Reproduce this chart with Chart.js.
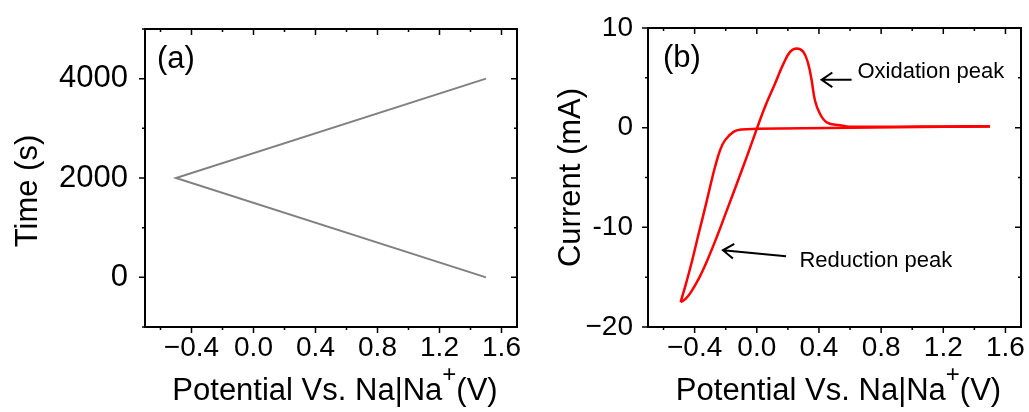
<!DOCTYPE html>
<html>
<head>
<meta charset="utf-8">
<script src="https://cdn.jsdelivr.net/npm/chart.js"></script>
<style>
html, body { margin: 0; padding: 0; background: #fff; }
#wrap { position: relative; width: 1029px; height: 412px; overflow: hidden; }
canvas { position: absolute; top: 0; }
#chartA { left: 0; }
#chartB { left: 520px; }
</style>
</head>
<body>
<div id="wrap">
  <canvas id="chartB" width="509" height="412"></canvas>
  <canvas id="chartA" width="530" height="412"></canvas>
</div>
<script>
// Panel (a): barrido de potencial frente al tiempo
var sweepPotential = [1.5, -0.5, 1.5];
var sweepTime = [0, 2000, 4000];

// Panel (b): voltametria ciclica, rama catodica (1.5 -> -0.5 V)
var cathodicPotential = [1.5, 1.2, 0.9, 0.6, 0.3, 0.0, -0.096, -0.15, -0.204, -0.236, -0.268, -0.30, -0.332, -0.375, -0.417, -0.46, -0.49];
var cathodicCurrent   = [0.12, 0.08, 0.04, 0.0, -0.05, -0.12, -0.18, -0.42, -1.25, -2.25, -3.9, -5.9, -8.0, -10.7, -13.4, -15.9, -17.5];

// rama anodica (-0.5 -> 1.5 V)
var anodicPotential = [-0.49, -0.46, -0.428, -0.375, -0.321, -0.257, -0.193, -0.128, -0.064, -0.011, 0.053, 0.117, 0.171, 0.214, 0.257, 0.30, 0.331, 0.353, 0.374, 0.406, 0.453, 0.535, 0.6, 0.9, 1.2, 1.5];
var anodicCurrent   = [-17.5, -17.2, -16.6, -15.2, -13.4, -10.95, -8.3, -5.6, -2.9, -0.6, 2.1, 4.4, 6.4, 7.6, 7.95, 7.6, 6.4, 4.75, 2.75, 1.4, 0.5, 0.25, 0.1, 0.1, 0.12, 0.15];

// ticks de los ejes
var potentialTicks  = [-0.6, -0.4, -0.2, 0, 0.2, 0.4, 0.6, 0.8, 1.0, 1.2, 1.4, 1.6];
var potentialLabels = ['', '\u22120.4', '', '0.0', '', '0.4', '', '0.8', '', '1.2', '', '1.6'];
var timeTicks  = [-1000, 0, 1000, 2000, 3000, 4000, 5000];
var timeLabels = ['', '0', '', '2000', '', '4000', ''];
var currentTicks  = [-20, -15, -10, -5, 0, 5, 10];
var currentLabels = ['\u221220', '', '-10', '', '0', '', '10'];

var FONT = "'Liberation Sans', Arial, sans-serif";

function toPoints(xs, ys) {
  return xs.map(function (x, i) { return { x: x, y: ys[i] }; });
}

function drawArrow(ctx, x1, y1, x2, y2) {
  var ang = Math.atan2(y2 - y1, x2 - x1), head = 13, spread = 0.6;
  ctx.beginPath();
  ctx.moveTo(x1, y1);
  ctx.lineTo(x2, y2);
  ctx.moveTo(x2 - head * Math.cos(ang - spread), y2 - head * Math.sin(ang - spread));
  ctx.lineTo(x2, y2);
  ctx.lineTo(x2 - head * Math.cos(ang + spread), y2 - head * Math.sin(ang + spread));
  ctx.stroke();
}

// marco, ticks en los 4 lados, titulos y notas
function framePlugin(cfg) {
  return {
    id: 'frame',
    afterDraw: function (chart) {
      var ctx = chart.ctx, a = chart.chartArea;
      var xs = chart.scales.x, ys = chart.scales.y;
      ctx.save();
      ctx.strokeStyle = '#000';
      ctx.fillStyle = '#000';
      ctx.lineWidth = 2;
      ctx.strokeRect(a.left, a.top, a.right - a.left, a.bottom - a.top);

      ctx.lineWidth = 1.5;
      ctx.beginPath();
      potentialTicks.forEach(function (v, i) {
        var px = xs.getPixelForValue(v);
        var len = potentialLabels[i] ? 6 : 3;
        ctx.moveTo(px, a.bottom); ctx.lineTo(px, a.bottom + len);
        ctx.moveTo(px, a.top); ctx.lineTo(px, a.top + len);
      });
      cfg.yTicks.forEach(function (v, i) {
        var py = ys.getPixelForValue(v);
        var len = cfg.yLabels[i] ? 6 : 3;
        ctx.moveTo(a.left, py); ctx.lineTo(a.left - len, py);
        ctx.moveTo(a.right, py); ctx.lineTo(a.right - len, py);
      });
      ctx.stroke();

      // titulo eje x con superindice
      var main = 'Potential Vs. Na|Na', sup = '+', tail = '(V)';
      ctx.textAlign = 'left';
      ctx.textBaseline = 'alphabetic';
      ctx.font = '31px ' + FONT;
      var w1 = ctx.measureText(main).width, w3 = ctx.measureText(tail).width;
      ctx.font = '24px ' + FONT;
      var w2 = ctx.measureText(sup).width;
      var x0 = (a.left + a.right) / 2 + 4 - (w1 + w2 + w3) / 2;
      var base = a.bottom + 73;
      ctx.font = '31px ' + FONT;
      ctx.fillText(main, x0, base);
      ctx.font = '24px ' + FONT;
      ctx.fillText(sup, x0 + w1, base - 18);
      ctx.font = '31px ' + FONT;
      ctx.fillText(tail, x0 + w1 + w2, base);

      // titulo eje y
      ctx.save();
      ctx.translate(cfg.yTitleX, (a.top + a.bottom) / 2 + cfg.yTitleShift);
      ctx.rotate(-Math.PI / 2);
      ctx.textAlign = 'center';
      ctx.textBaseline = 'middle';
      ctx.font = '31px ' + FONT;
      ctx.fillText(cfg.yTitle, 0, 0);
      ctx.restore();

      // etiqueta del panel
      ctx.textAlign = 'left';
      ctx.textBaseline = 'middle';
      ctx.font = '31px ' + FONT;
      ctx.fillText(cfg.panel, a.left + cfg.panelDx, a.top + 30);

      // notas con flecha
      (cfg.notes || []).forEach(function (n) {
        ctx.lineWidth = 2;
        drawArrow(ctx, xs.getPixelForValue(n.tail[0]), ys.getPixelForValue(n.tail[1]),
                  xs.getPixelForValue(n.tip[0]), ys.getPixelForValue(n.tip[1]));
        ctx.font = '22px ' + FONT;
        ctx.textBaseline = 'middle';
        ctx.fillText(n.text, xs.getPixelForValue(n.at[0]), ys.getPixelForValue(n.at[1]));
      });
      ctx.restore();
    }
  };
}

function makeScales(yMin, yMax, yTicks, yLabels, yWidth, yPad, ySize) {
  return {
    x: {
      type: 'linear', min: -0.7, max: 1.7,
      afterBuildTicks: function (s) { s.ticks = potentialTicks.map(function (v) { return { value: v }; }); },
      afterFit: function (s) { s.height = 85; s.paddingLeft = 0; s.paddingRight = 0; },
      grid: { display: false, drawTicks: false },
      border: { display: false },
      ticks: {
        autoSkip: false, maxRotation: 0, minRotation: 0, padding: 4, color: '#000',
        font: { family: FONT, size: 28 },
        callback: function (v, i) { return potentialLabels[i]; }
      }
    },
    y: {
      type: 'linear', min: yMin, max: yMax,
      afterBuildTicks: function (s) { s.ticks = yTicks.map(function (v) { return { value: v }; }); },
      afterFit: function (s) { s.width = yWidth; s.paddingTop = 0; s.paddingBottom = 0; },
      grid: { display: false, drawTicks: false },
      border: { display: false },
      ticks: {
        autoSkip: false, padding: yPad, color: '#000',
        font: { family: FONT, size: ySize },
        callback: function (v, i) { return yLabels[i]; }
      }
    }
  };
}

var chartA = new Chart(document.getElementById('chartA').getContext('2d'), {
  type: 'scatter',
  data: {
    datasets: [{
      data: toPoints(sweepPotential, sweepTime),
      showLine: true,
      borderColor: '#808080',
      borderWidth: 2,
      pointRadius: 0
    }]
  },
  options: {
    responsive: false,
    animation: false,
    layout: { padding: { top: 29, right: 13, left: 0, bottom: 0 } },
    plugins: { legend: { display: false }, tooltip: { enabled: false } },
    scales: makeScales(-1000, 5000, timeTicks, timeLabels, 145, 17, 31)
  },
  plugins: [framePlugin({
    yTicks: timeTicks, yLabels: timeLabels,
    yTitle: 'Time (s)', yTitleX: 28, yTitleShift: 13,
    panel: '(a)', panelDx: 12
  })]
});

var chartB = new Chart(document.getElementById('chartB').getContext('2d'), {
  type: 'scatter',
  data: {
    datasets: [{
      data: toPoints(cathodicPotential, cathodicCurrent),
      showLine: true,
      borderColor: '#ff0000',
      borderWidth: 2.5,
      pointRadius: 0,
      tension: 0.4
    }, {
      data: toPoints(anodicPotential, anodicCurrent),
      showLine: true,
      borderColor: '#ff0000',
      borderWidth: 2.5,
      pointRadius: 0,
      tension: 0.4
    }]
  },
  options: {
    responsive: false,
    animation: false,
    layout: { padding: { top: 28, right: 8, left: 0, bottom: 0 } },
    plugins: { legend: { display: false }, tooltip: { enabled: false } },
    scales: makeScales(-20, 10, currentTicks, currentLabels, 128, 15, 28)
  },
  plugins: [framePlugin({
    yTicks: currentTicks, yLabels: currentLabels,
    yTitle: 'Current (mA)', yTitleX: 51, yTitleShift: 0,
    panel: '(b)', panelDx: 15,
    notes: [
      { text: 'Oxidation peak', at: [0.648, 5.6], tail: [0.61, 4.8], tip: [0.417, 4.8] },
      { text: 'Reduction peak', at: [0.274, -13.4], tail: [0.188, -12.9], tip: [-0.218, -12.3] }
    ]
  })]
});
</script>
</body>
</html>
